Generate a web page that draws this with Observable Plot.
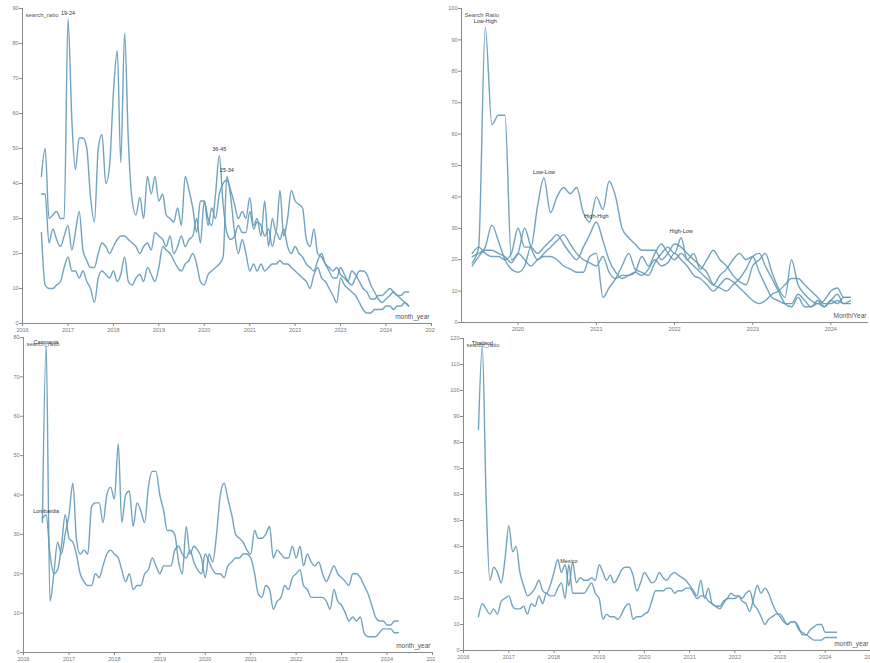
<!DOCTYPE html>
<html><head><meta charset="utf-8">
<script src="https://cdn.jsdelivr.net/npm/d3@7"></script>
<script src="https://cdn.jsdelivr.net/npm/@observablehq/plot@0.6"></script>
<style>
body{margin:0;background:#fff;width:870px;height:663px;position:relative;overflow:hidden;font-family:"Liberation Sans",Arial,sans-serif}
.panel{position:absolute}
.panel svg{display:block}
</style></head><body>
<div id="p1" class="panel" style="left:0;top:0"></div>
<div id="p2" class="panel" style="left:435px;top:0"></div>
<div id="p3" class="panel" style="left:0;top:333px"></div>
<div id="p4" class="panel" style="left:435px;top:333px"></div>
<script>
// ---------- Panel 1: age groups (monthly, Jun 2016 - Jul 2024)
const ageStart = "2016-06";
const ageNames = ["19-24", "36-45", "25-34"];
const age_19_24 = [42,50,30,31,32,30,30,
 87,58,44,53,53,50,36,29,50,54,40,45,
 66,78,46,83,52,35,31,36,30,42,37,42,
 35,37,31,30,29,33,28,42,38,33,26,35,
 35,28,33,30,37,40,41,38,34,30,32,30,
 36,28,30,25,35,22,30,26,38,25,30,38,
 35,34,33,24,22,27,20,19,17,16,15,16,
 14,13,12,15,14,12,10,9,7,7,8,8,
 9,10,9,8,8,9,9];
const age_36_45 = [37,37,23,27,24,22,25,
 28,21,26,32,21,18,16,16,20,23,22,20,
 22,24,25,25,24,23,22,20,22,23,21,26,
 25,24,22,25,20,22,25,22,24,25,30,23,
 35,30,28,37,48,34,26,24,25,28,26,26,
 32,27,29,28,25,27,22,26,24,27,22,20,
 22,20,19,17,16,15,18,20,17,15,13,13,
 16,14,12,11,13,15,15,14,11,9,7,6,
 7,8,9,8,7,6,5];
const age_25_34 = [26,11,10,10,11,12,16,
 19,15,15,13,15,12,10,6,13,15,14,13,
 15,12,14,19,12,11,13,14,12,16,14,12,
 16,22,21,20,18,16,15,17,18,20,17,12,
 11,14,15,16,17,19,42,36,26,20,24,20,
 15,17,15,17,15,16,17,17,18,17,17,16,
 15,14,13,12,10,14,16,13,12,10,8,6,
 13,11,10,9,8,6,4,3,3,4,4,4,
 5,5,4,5,5,6,5];

// ---------- Panel 2: segments (monthly, Jun 2019 - Apr 2024)
const segStart = "2019-06";
const segNames = ["Low-High", "Low-Low", "High-High", "High-Low"];
const seg_low_high = [19,24,94,63,66,66,20,
 22,30,24,20,22,24,26,28,25,22,20,19,
 18,21,16,14,15,15,16,21,18,22,25,22,
 20,22,20,18,16,14,12,15,17,20,22,20,
 21,16,12,8,7,6,6,9,7,5,7,5,
 7,6,8,8];
const seg_low_low = [22,24,22,21,21,20,22,
 30,24,24,37,46,35,40,43,41,43,35,32,
 40,36,45,40,30,27,25,23,23,23,20,22,
 25,24,22,20,18,16,12,11,10,12,14,17,
 21,22,18,14,10,6,5,8,5,5,6,5,
 7,9,6,6];
const seg_high_high = [18,21,24,31,26,20,17,
 16,18,24,22,24,26,28,25,22,20,24,28,
 32,26,20,16,14,15,16,15,17,20,18,19,
 22,20,18,15,14,12,10,12,14,13,11,9,
 7,6,7,9,10,12,14,14,12,10,8,6,
 6,7,6,7];
const seg_high_low = [21,22,23,23,22,21,19,
 22,20,18,20,21,21,20,18,17,16,16,21,
 22,8,11,14,18,22,17,16,15,19,22,24,
 22,27,20,22,17,20,23,20,18,15,13,12,
 18,20,22,16,11,8,20,12,9,7,6,7,
 10,11,8,8];

// ---------- Panel 3: regions (monthly, Jun 2016 - Apr 2024)
const regStart = "2016-06";
const regNames = ["Campania", "Lombardia"];
const reg_campania = [33,78,13,20,28,25,30,
 35,43,29,25,26,25,37,38,38,33,40,42,
 39,53,33,40,41,32,38,36,33,42,46,46,
 40,36,31,31,30,23,20,32,25,27,26,24,
 19,25,23,30,40,43,39,35,30,29,28,26,
 25,31,29,29,30,32,24,26,25,24,24,27,
 24,27,22,25,23,22,23,20,18,20,22,20,
 19,18,17,20,20,19,17,15,12,9,8,8,
 7,7,8,8];
const reg_lombardia = [34,35,25,20,21,27,35,
 29,28,25,20,18,17,17,20,19,22,25,26,
 25,24,21,18,20,16,17,17,20,21,24,22,
 20,22,22,22,26,27,25,24,26,23,21,20,
 25,23,21,20,20,19,22,23,24,24,25,25,
 24,20,15,14,17,16,11,13,14,17,16,19,
 20,21,17,16,14,14,14,14,13,11,16,13,
 12,10,8,9,8,9,5,4,4,4,5,6,
 6,6,5,5];

// ---------- Panel 4: countries (monthly, May 2016 - Apr 2024)
const ctyStart = "2016-05";
const ctyNames = ["Thailand", "Mexico"];
const cty_thailand = [85,117,60,27,32,30,26,35,
 48,38,40,30,25,21,22,24,27,23,22,25,
 30,35,30,33,25,34,26,28,27,27,28,27,
 33,30,27,29,26,28,31,32,32,29,23,26,
 30,28,26,27,30,28,27,29,30,29,28,27,
 25,23,21,27,20,24,18,17,16,18,20,20,
 20,21,20,22,23,18,16,13,10,12,13,14,
 14,12,10,11,11,9,6,6,5,4,4,4,
 5,5,5,5];
const cty_mexico = [13,18,16,14,16,14,19,20,
 21,17,16,16,17,14,18,17,21,18,22,21,
 21,24,26,20,33,22,22,22,22,24,26,22,
 20,12,14,13,13,12,14,17,18,12,13,13,
 14,15,19,23,23,23,24,24,22,23,23,24,
 24,22,20,21,21,19,18,17,17,19,20,22,
 21,21,19,18,15,20,25,22,24,22,18,15,
 13,11,10,11,11,8,7,6,8,9,10,10,
 7,7,7,7];

// ---------- helpers
function toRows(start, names, seriesList) {
  const s = new Date(start + "-01T00:00:00Z");
  const out = [];
  seriesList.forEach((vals, k) => vals.forEach((v, i) =>
    out.push({date: d3.utcMonth.offset(s, i), value: v, series: names[k]})));
  return out;
}
const LINE = "#6399b8";
function panel(o) {
  const data = toRows(o.start, o.names, o.series);
  return Plot.plot({
    width: o.w, height: o.h,
    marginLeft: o.ml, marginRight: o.mr, marginTop: o.mt, marginBottom: o.mb,
    style: {fontFamily: "Liberation Sans, Arial, sans-serif", background: "#fff", overflow: "visible"},
    x: {type: "utc", domain: o.xDomain, axis: null},
    y: {domain: o.yDomain, axis: null},
    marks: [
      Plot.ruleX([o.xDomain[0]], {stroke: "#8a8a8a", strokeWidth: 1}),
      Plot.ruleY([o.yDomain[0]], {stroke: "#8a8a8a", strokeWidth: 1}),
      Plot.axisY({ticks: d3.range(o.yDomain[0], o.yDomain[1] + 1, 10), tickSize: 3, fontSize: 5.5,
        stroke: "#8a8a8a", fill: "#777", label: null, tickPadding: 1}),
      Plot.axisX({ticks: d3.utcYear.every(1), tickFormat: "%Y", tickSize: 3, fontSize: 5.5,
        stroke: "#8a8a8a", fill: "#777", label: null, tickPadding: 2}),
      Plot.line(data, {x: "date", y: "value", z: "series", stroke: LINE, strokeWidth: 1.4,
        strokeOpacity: 0.9, curve: "monotone-x"}),
      Plot.text(data, Plot.selectMaxY({x: "date", y: "value", z: "series", text: "series",
        dy: o.labelDy ?? -6, dx: o.labelDx ?? 0, fontSize: 5.5, fill: "#333"})),
      Plot.text([o.yLabel], {frameAnchor: "top-left", dx: 3, dy: 4, textAnchor: "start",
        fontSize: 6, fill: "#555"}),
      Plot.text([o.xLabel], {frameAnchor: "bottom-right", dx: -2, dy: -5, textAnchor: "end",
        fontSize: 6.5, fill: "#555"})
    ]
  });
}
const Y = s => new Date(s);
document.getElementById("p1").append(panel({
  start: ageStart, names: ageNames, series: [age_19_24, age_36_45, age_25_34],
  w: 435, h: 335, ml: 22, mr: 4, mt: 8, mb: 12,
  xDomain: [Y("2016-01-01"), Y("2025-01-01")], yDomain: [0, 90],
  yLabel: "search_ratio", xLabel: "month_year"}));
document.getElementById("p2").append(panel({
  start: segStart, names: segNames, series: [seg_low_high, seg_low_low, seg_high_high, seg_high_low],
  w: 435, h: 335, ml: 26, mr: 2, mt: 8, mb: 13,
  xDomain: [Y("2019-04-12"), Y("2024-06-25")], yDomain: [0, 100],
  yLabel: "Search Ratio", xLabel: "Month/Year"}));
document.getElementById("p3").append(panel({
  start: regStart, names: regNames, series: [reg_campania, reg_lombardia],
  w: 435, h: 330, ml: 23, mr: 3, mt: 4, mb: 11, labelDy: -3,
  xDomain: [Y("2016-01-01"), Y("2025-01-01")], yDomain: [0, 80],
  yLabel: "search_ratio", xLabel: "month_year"}));
document.getElementById("p4").append(panel({
  start: ctyStart, names: ctyNames, series: [cty_thailand, cty_mexico],
  w: 435, h: 330, ml: 28, mr: 0, mt: 5, mb: 13, labelDy: -3,
  xDomain: [Y("2016-01-01"), Y("2025-01-01")], yDomain: [0, 120],
  yLabel: "search_ratio", xLabel: "month_year"}));
</script>
</body></html>
